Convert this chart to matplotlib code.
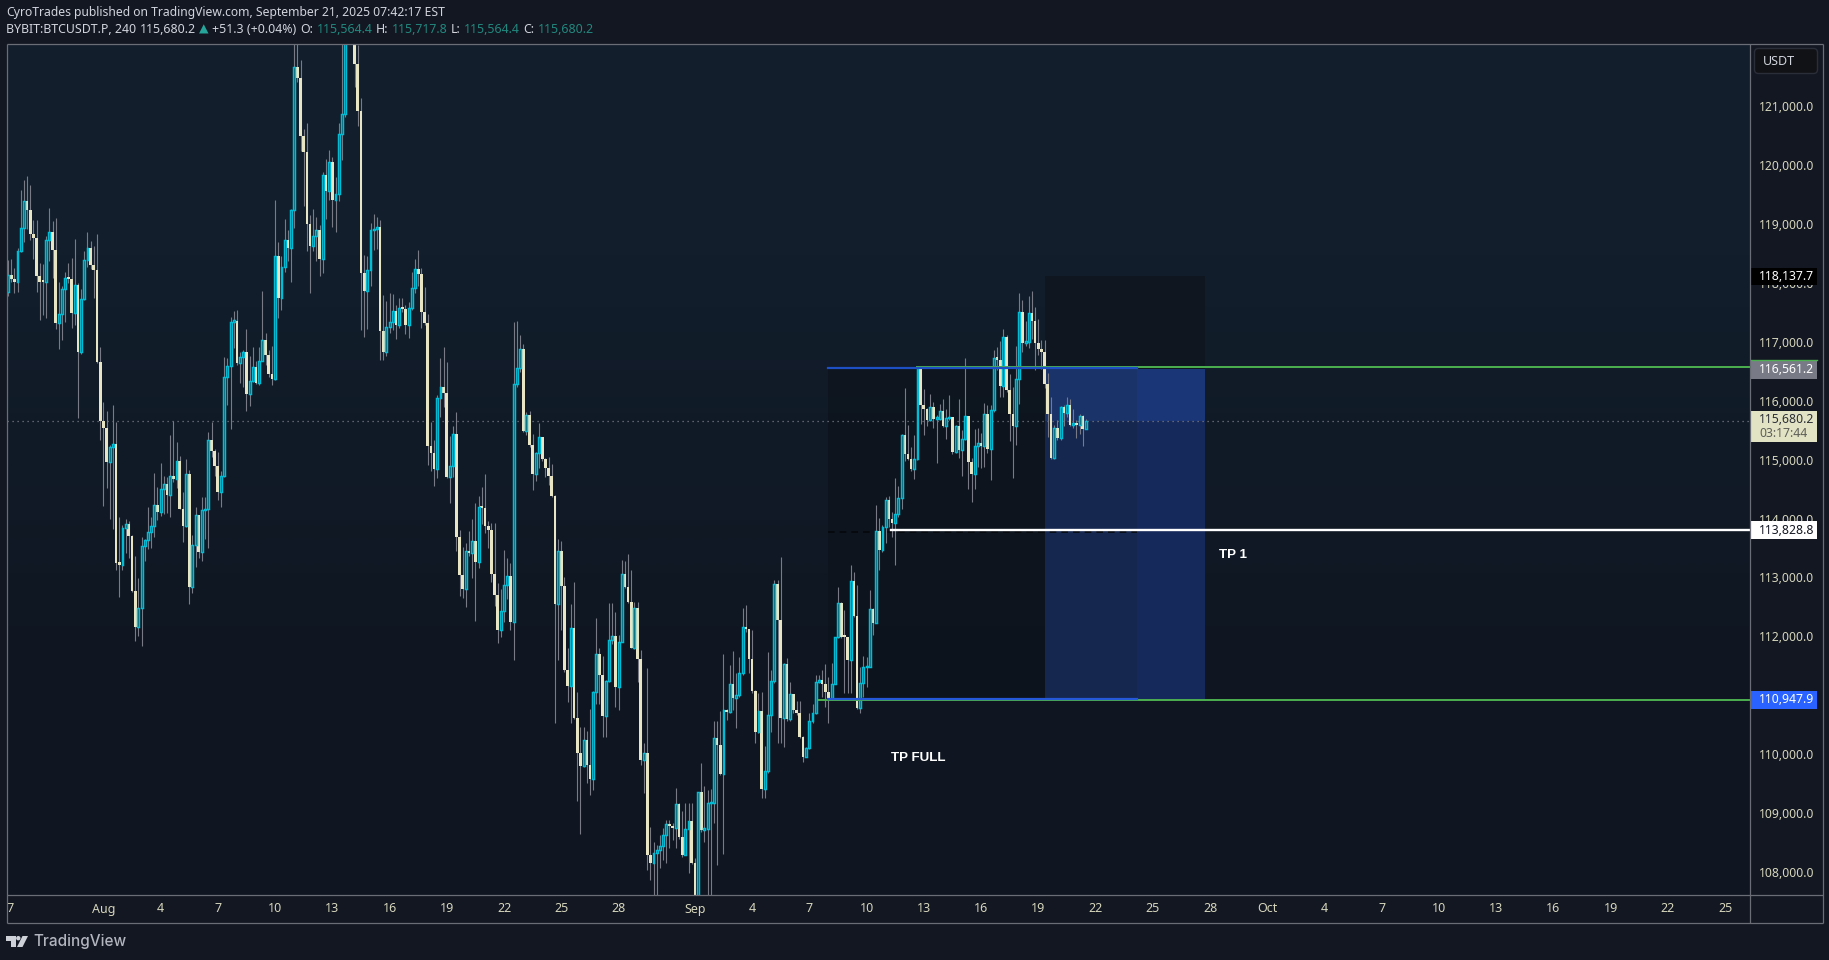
import matplotlib
matplotlib.use('Agg')
import numpy as np
from matplotlib import pyplot as plt
from matplotlib.colors import LinearSegmentedColormap
from matplotlib.patches import Rectangle, FancyBboxPatch, Polygon, Circle

W, H = 1829, 960

# 4h bars, price. open of a bar = close of the bar before
first_open = 117876
closes = [
118170,118097,118046,118578,118968,119427,119268,118861,118793,118148,
118046,118040,118753,118884,118595,117350,117508,117916,118119,118086,
117520,117984,116857,117763,118425,118629,118329,118255,116687,115674,
115572,114984,115233,115284,113274,113240,113857,113925,113733,112793,
112188,112510,113552,113654,113801,113891,114248,114140,114520,114604,
114423,114740,114701,114995,114191,113903,114774,112867,113569,114078,
113461,114163,114180,115352,115176,114921,114480,114740,116438,116625,
117372,117389,116671,116761,116852,116144,116354,116608,116320,116694,
117050,116801,116478,116399,118482,117775,118301,118765,118624,119258,
121703,121510,120526,120254,119031,118658,118828,118929,118437,119869,
119592,120073,119439,119541,120560,120899,122500,123400,122800,121748,
120950,118188,117894,118239,118918,118935,118969,117209,116858,117271,
117367,117543,117311,117605,117577,117311,117605,117933,118256,118177,
117537,117339,115256,115137,114871,116065,116252,116150,114735,114911,
115454,113716,113065,112822,113467,113439,113637,113292,114214,114203,
113898,113835,113088,112732,112137,112449,112890,113043,112273,116303,
116586,116897,115516,115777,115267,114780,115131,115403,115030,114877,
114741,114413,112573,113473,112884,111452,111186,112160,110643,110049,
109828,110258,109839,109607,111073,111718,111373,110677,111260,111956,
112024,111169,111933,113077,112862,112613,111832,112499,111634,109924,
110037,108317,108170,108351,108396,108458,108645,108832,108804,108770,
109177,108622,108317,108747,108883,108181,107094,109375,108736,108747,
109188,109200,110292,110179,109692,110773,110734,111209,110983,111034,
111396,112177,112143,111645,111101,110405,110751,109437,109732,110683,
111260,112907,112296,110643,111549,110615,111039,110768,110717,110320,
109981,110122,110581,110717,111243,111277,111209,111073,110971,111220,
112007,112584,112018,112007,111622,112958,112375,110813,111226,111498,
111509,112483,112256,113807,113490,113874,114339,114016,113948,114107,
114367,115437,115125,115040,114865,115040,116563,115957,115889,115703,
115912,115720,115720,115844,115601,115725,115742,115159,115595,115188,
115369,115765,114989,114780,115250,115301,115256,115793,115205,115861,
116744,116727,116274,117101,116201,115799,115601,116388,117542,117010,
117021,117525,117378,117010,116903,116846,116314,115805,115052,115556,
115397,115912,115822,115946,115623,115623,115617,115759,115550,115680.2,
]
highs = [
118414,118431,118289,118629,119602,119772,119840,119687,119093,119093,
118374,118346,118821,119297,119076,119127,118040,117967,118221,118374,
118459,118770,118018,117916,118567,118889,118736,118652,118855,116937,
115997,115850,115272,115952,115663,114050,113914,114010,113987,113744,
113388,113008,113704,113680,114220,114050,114797,114559,114961,114740,
114729,115442,115674,115323,115086,114474,115035,114848,113744,114220,
114089,114389,114389,115493,115663,115204,115148,114825,116767,116750,
117446,117548,117565,116857,116886,117242,116784,116937,116699,116937,
117882,117175,116880,116948,119433,118720,118480,119111,118924,119286,
122300,122300,121810,120639,120752,119173,119280,119145,119009,119914,
120124,120277,120163,119824,120741,122300,122800,124000,123700,123000,
122065,121160,118499,118480,119043,119195,119139,119088,117820,117718,
117854,117831,117645,117769,117769,117650,117701,118211,118431,118584,
118279,117956,117497,115663,115358,116122,116750,116937,116682,115426,
115596,115833,113830,113541,113609,113813,114016,114282,114407,114560,
114780,113982,113943,113948,112930,112828,113484,113354,113264,117367,
117373,117141,116988,115839,115845,115454,115160,115641,115414,115046,
115064,114945,114424,113677,113643,113026,111820,112573,112947,111073,
110490,110490,110417,110785,111100,112335,111820,111690,111283,112590,
112590,112437,112047,113315,113303,113416,113150,112601,112601,111792,
110207,111481,108787,108526,108481,108651,108764,108905,108905,108850,
109443,109200,109053,109194,109194,109194,108255,109386,109868,109483,
109415,109426,110592,110592,110762,111724,110785,111537,111775,111396,
111667,112511,112550,112132,112132,111113,111056,111084,110162,111752,
111452,112981,112981,113371,111566,111650,111249,111028,110926,110926,
110332,110150,110717,110875,111367,111367,111452,111554,111339,111566,
112018,112856,112613,112471,111962,113235,113122,112896,111509,111690,
111679,112811,112500,114254,114027,113914,114384,114407,114140,114706,
114576,115470,116240,115612,115239,115442,116603,116570,116218,115895,
116138,116003,115782,115963,116048,115878,116116,115742,115612,116048,
115527,116744,115765,115046,115544,115561,115471,115980,115952,115952,
116886,116937,117044,117237,117140,116478,116257,116954,117853,117735,
117389,117803,117887,117616,117412,117055,117055,116495,116088,115612,
115697,115935,115950,116088,116054,115884,115697,115799,115782,115717.8,
]
lows = [
117803,118046,117859,117876,118555,118725,118935,118753,118431,117876,
117395,117480,117435,118397,118114,117242,116903,117055,117361,118018,
117259,117310,115731,116818,117735,118301,118267,117769,116675,115357,
114237,114548,114016,113846,113150,112691,113150,113438,113359,112776,
111944,112029,111859,113303,113506,113523,113710,113999,114067,114101,
114112,114050,114650,114542,114180,113625,113880,112572,112759,113201,
113354,113303,113676,113523,115074,114746,114338,114220,114735,115952,
115550,116925,116631,116325,116257,115850,115935,116342,116303,116292,
116773,116631,116422,116292,116377,117430,117565,118211,118397,118041,
118958,121437,120265,119331,118567,117854,118573,118397,118143,118194,
119111,119433,118975,118890,119416,120112,120850,122300,122400,121358,
120690,117226,117113,117248,117973,118584,118596,116716,116716,116784,
117181,117226,117073,117265,117540,117158,117096,117565,117854,117973,
117260,117311,114933,114831,114577,114713,115748,115918,114713,114288,
114730,113473,112709,112675,112522,113388,113015,112284,113184,113931,
113779,113524,112947,112539,111905,112013,112267,112658,112132,111622,
116263,116518,115500,115443,115240,114509,114667,114877,115000,114735,
114594,114396,110558,111622,112132,111424,110915,110558,110626,109228,
108668,109811,109528,109330,109415,110875,110880,110320,110320,111250,
111900,110830,110773,111933,112840,112585,111820,111810,111254,109839,
109358,108056,107887,107547,107547,108085,108226,108181,108424,108566,
108424,108590,108283,108306,108011,108160,107040,107094,108708,108537,
107604,107604,108849,108150,109670,108328,110603,110717,110773,110468,
111000,111368,112100,111396,111067,110207,110377,109285,109285,109698,
110405,111237,110207,110207,110151,110592,110581,110716,110689,110292,
109896,109970,110105,110558,110705,111226,111000,110830,110558,110943,
111209,111990,111990,111056,111056,111056,112350,110785,110717,110999,
111170,112047,112047,112256,113150,113461,113603,113886,113716,113235,
114056,114191,115006,115018,114831,114695,115018,115629,115442,115595,
115680,115561,114973,115697,115584,115374,115697,115120,115142,115057,
114752,115357,114525,114305,114525,114905,114882,114899,115131,114678,
115838,116546,116093,116088,116178,115340,114712,115272,115969,116852,
116954,116920,117072,116557,116801,116563,116235,115408,115029,115035,
115357,115357,115595,115748,115600,115561,115391,115470,115256,115564.4,
]

# axis ticks
price_ticks = [108000,109000,110000,111000,112000,113000,114000,115000,116000,117000,118000,119000,120000,121000]
time_pos = [0,30,48,66,84,102,120,138,156,174,192,216,234,252,270,288,306,324,342,360,378,396,414,432,450,468,486,504,522,540]
time_labels = ['27','Aug','4','7','10','13','16','19','22','25','28','Sep','4','7','10','13','16','19','22','25','28','Oct','4','7','10','13','16','19','22','25']

# drawing levels
stop_price = 118137.7
entry_price = 116561.2
tp1_price = 113828.8
tp_full_price = 110947.9
last_price = 115680.2

OUTER = '#131722'
CREAM = '#e8e5c4'
CYAN = '#00bcd4'
WICK = '#787b86'
AXLINE = '#6a6d76'
TICKTXT = '#d6d6bc'

plt.rcParams['font.family'] = ['Noto Sans', 'DejaVu Sans']

fig = plt.figure(figsize=(W/100, H/100), dpi=100, facecolor=OUTER)


def px_axes(x0, y0, x1, y1):
    return fig.add_axes([x0/W, 1-y1/H, (x1-x0)/W, (y1-y0)/H])


ax = px_axes(7, 43.5, 1750, 895)
ylim = (107632, 122094)
xlim = (-0.31, 547.8)
ax.set_xlim(xlim)
ax.set_ylim(ylim)
ax.set_xticks([])
ax.set_yticks([])
for s in ax.spines.values():
    s.set_visible(False)

# pane gradient
cmap = LinearSegmentedColormap.from_list('pane', ['#121e2c', '#0f1621'])
ax.imshow([[0], [1]], cmap=cmap, extent=(0, 1, 0, 1), transform=ax.transAxes,
          aspect='auto', interpolation='bilinear', zorder=0)
ax.set_xlim(xlim)
ax.set_ylim(ylim)

# position tool
ax.add_patch(Rectangle((257.9, tp_full_price), 326-257.9, entry_price-tp_full_price, fc='#0d131c', alpha=0.75, lw=0, zorder=1))
ax.add_patch(Rectangle((326, entry_price), 376.4-326, stop_price-entry_price, fc='#0f161f', lw=0, zorder=1))
ax.add_patch(Rectangle((326, last_price), 355-326, entry_price-last_price, fc='#1a3368', lw=0, zorder=1))
ax.add_patch(Rectangle((326, tp_full_price), 355-326, last_price-tp_full_price, fc='#15274f', lw=0, zorder=1))
ax.add_patch(Rectangle((355, last_price), 376.4-355, entry_price-last_price, fc='#1b3676', lw=0, zorder=1))
ax.add_patch(Rectangle((355, tp_full_price), 376.4-355, last_price-tp_full_price, fc='#15295a', lw=0, zorder=1))

ax.axhline(last_price, color=WICK, lw=0.9, ls=(0, (1, 3)), zorder=1.5)
ax.plot([257.9, 355], [tp1_price-40, tp1_price-40], color='#05080c', lw=1.2, ls=(0, (4, 3)), zorder=1.6)

# candles
x = np.arange(len(closes))
closes = np.array(closes, dtype=float)
opens = np.r_[first_open, closes[:-1]]
up = closes >= opens
ax.vlines(x, lows, highs, color=WICK, lw=0.8, zorder=2)
ax.bar(x[~up], np.maximum(opens[~up]-closes[~up], 40), bottom=closes[~up], width=0.86, color=CREAM, lw=0, zorder=3)
ax.bar(x[up], np.maximum(closes[up]-opens[up], 30), bottom=opens[up], width=0.6,
       facecolor='#123a4a', edgecolor=CYAN, lw=1.05, zorder=3)

# level lines, over the candles
ax.plot([285.8, xlim[1]], [entry_price+45, entry_price+45], color='#4caf50', lw=1.4, zorder=4)
ax.plot([257.9, 355], [entry_price+28, entry_price+28], color='#1f4fc4', lw=1.6, zorder=4.1)
ax.plot([255, xlim[1]], [tp_full_price-2, tp_full_price-2], color='#4caf50', lw=1.4, zorder=4)
ax.plot([257.9, 355], [tp_full_price+20, tp_full_price+20], color='#2458d8', lw=1.6, zorder=4.1)
ax.plot([277.7, xlim[1]], [tp1_price, tp1_price], color='white', lw=1.7, zorder=4.2)

lab = dict(color='white', fontsize=9.6, fontweight='bold', family='Liberation Sans', va='center', zorder=5)
ax.text(380.8, 113410, 'TP 1', **lab)
ax.text(277.6, 109960, 'TP FULL', **lab)

# price scale
ap = px_axes(1750, 43.5, 1823, 895)
ap.set_xlim(0, 73)
ap.set_ylim(ylim)
ap.axis('off')
for p in price_ticks:
    ap.text(9, p, f'{p:,.1f}', color=TICKTXT, fontsize=8.8, va='center', ha='left', zorder=1)


def tag(price, bg, txt, tc, h=19):
    hh = h*16.98/2
    ap.add_patch(Rectangle((0.5, price-hh), 66, 2*hh, fc=bg, lw=0, zorder=2))
    ap.text(9, price, txt, color=tc, fontsize=8.8, va='center', ha='left', zorder=3)


tag(stop_price, '#000000', f'{stop_price:,.1f}', 'white', 17)
tag(entry_price, WICK, f'{entry_price:,.1f}', 'white', 19)
ap.plot([0.5, 66.5], [entry_price+150, entry_price+150], color='#4caf50', lw=1, zorder=4)
tag(tp1_price, 'white', f'{tp1_price:,.1f}', '#131722', 18)
tag(tp_full_price, '#2962ff', f'{tp_full_price:,.1f}', 'white', 18)
hh = 15.5*16.98
ap.add_patch(Rectangle((0.5, last_price-hh-90), 66, 2*hh, fc='#e2e2c4', lw=0, zorder=2))
ap.text(9, last_price+30, f'{last_price:,.1f}', color='#2c2f36', fontsize=8.8, va='center', ha='left', zorder=3)
ap.text(9, last_price-215, '03:17:44', color='#5d5f58', fontsize=8.8, va='center', ha='left', zorder=3)

# time scale
at = px_axes(7, 895, 1750, 923)
at.set_xlim(xlim)
at.set_ylim(0, 1)
at.axis('off')
for p, t in zip(time_pos, time_labels):
    at.text(p, 0.5, t, color=TICKTXT, fontsize=9, ha='center', va='center', clip_on=True)

# overlay in figure pixels, frame lines, header, logo
ov = fig.add_axes([0, 0, 1, 1], facecolor='none')
ov.set_xlim(0, W)
ov.set_ylim(H, 0)
ov.axis('off')
for a, b in [((6.5, 43.5), (1823, 43.5)), ((6.5, 895), (1823, 895)), ((6.5, 923), (1823, 923)),
             ((6.5, 43.5), (6.5, 923)), ((1750, 43.5), (1750, 923)), ((1823, 43.5), (1823, 923))]:
    ov.plot([a[0], b[0]], [a[1], b[1]], color=AXLINE, lw=0.9, solid_capstyle='butt')

ov.add_patch(FancyBboxPatch((1757, 51), 58, 20, boxstyle='round,pad=2.5,rounding_size=4',
                            fc='#101216', ec='#2a2e39', lw=1))
ov.text(1763, 61.5, 'USDT', color='#d1d4dc', fontsize=9, va='center')

rend = fig.canvas.get_renderer()


def row(x0, y, parts, size):
    # parts put one after the other, using the measured text width
    cx = x0
    for txt, col, wt in parts:
        t = ov.text(cx, y, txt, color=col, fontsize=size, fontweight=wt, va='center', ha='left')
        cx = t.get_window_extent(rend).x1 + 3.5


HEAD = '#d1d4dc'
TEAL = '#22887e'
row(6, 12.5, [('CyroTrades', HEAD, 'bold'), ('published on TradingView.com, September 21, 2025 07:42:17 EST', HEAD, 'normal')], 8.75)
row(6, 29.5, [('BYBIT:BTCUSDT.P, 240', HEAD, 'bold'), ('115,680.2', HEAD, 'normal'), ('▲', '#26a69a', 'normal'),
              ('+51.3 (+0.04%)', HEAD, 'normal'), ('O:', HEAD, 'bold'), ('115,564.4', TEAL, 'normal'),
              ('H:', HEAD, 'bold'), ('115,717.8', TEAL, 'normal'), ('L:', HEAD, 'bold'), ('115,564.4', TEAL, 'normal'),
              ('C:', HEAD, 'bold'), ('115,680.2', TEAL, 'normal')], 8.9)

# TradingView logo
LOGO = '#cfd1d8'
ov.add_patch(Polygon([(5.5, 936), (15.5, 936), (15.5, 947), (10.5, 947), (10.5, 940.5), (5.5, 940.5)], fc=LOGO, lw=0))
ov.add_patch(Circle((18.3, 938.2), 2.2, fc=LOGO, lw=0))
ov.add_patch(Polygon([(22.5, 936), (28, 936), (22.5, 947), (17, 947)], fc=LOGO, lw=0))
ov.text(33, 941.5, 'TradingView', color='#b2b5be', fontsize=11, fontweight='medium', family='Inter', va='center')

fig.savefig('out.png', dpi=100, facecolor=OUTER)
